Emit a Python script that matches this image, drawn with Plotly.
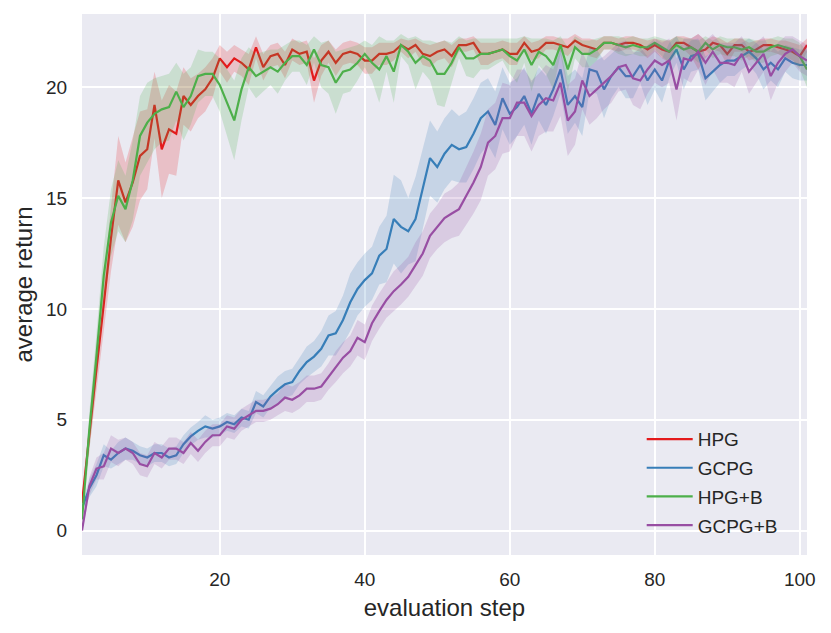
"""
Learning curves (average return vs evaluation step) with std bands, seaborn darkgrid look
"""
import plotly.graph_objs as go

steps = list(range(1, 102))

# mean return per evaluation step
hpg = [1.25, 4.4, 7.3, 10.2, 13.2, 15.8, 14.8, 15.7, 16.9, 17.2,
       19.2, 17.2, 18.1, 17.9, 19.6, 19.2, 19.6, 19.9, 20.4, 21.3,
       20.9, 21.3, 21.1, 20.8, 21.8, 20.9, 21.4, 21.5, 21.0, 21.7,
       21.5, 21.6, 20.3, 21.2, 21.6, 21.1, 21.5, 21.6, 21.5, 21.2,
       21.2, 21.5, 21.5, 21.6, 21.9, 21.7, 21.9, 21.5, 21.4, 21.6,
       21.7, 21.4, 21.9, 21.9, 22.0, 21.5, 21.5, 21.6, 21.7, 21.5,
       21.5, 22.0, 21.6, 21.7, 22.0, 22.0, 21.9, 21.8, 22.1, 21.9,
       21.8, 21.7, 22.0, 22.0, 21.9, 22.0, 22.0, 21.9, 21.7, 21.9,
       21.7, 21.6, 22.0, 22.0, 21.8, 21.6, 21.7, 22.0, 21.9, 21.5,
       21.9, 21.9, 21.6, 21.7, 21.9, 21.9, 21.8, 21.7, 21.6, 21.4,
       21.9]
gcpg = [1.0, 1.9, 2.5, 3.4, 3.2, 3.5, 3.7, 3.6, 3.4, 3.3,
        3.5, 3.5, 3.3, 3.4, 3.9, 4.25, 4.5, 4.7, 4.6, 4.7,
        4.9, 4.8, 5.1, 5.0, 5.8, 5.6, 6.05, 6.35, 6.6, 6.7,
        7.2, 7.6, 7.85, 8.2, 8.8, 8.9, 9.5, 10.3, 10.9, 11.3,
        11.6, 12.4, 12.7, 14.05, 13.7, 13.5, 14.05, 15.4, 16.8, 16.4,
        17.0, 17.4, 17.2, 17.3, 17.9, 18.6, 18.9, 18.3, 19.5, 18.8,
        19.1, 19.6, 18.8, 19.7, 19.2, 19.9, 20.8, 19.2, 19.6, 19.1,
        20.8, 20.7, 19.9, 20.5, 20.9, 20.5, 20.5, 21.0, 20.3, 20.8,
        20.3, 21.2, 21.7, 20.8, 21.4, 21.5, 20.4, 20.7, 21.0, 21.2,
        21.2, 21.4, 21.6, 21.3, 20.8, 21.1, 20.8, 21.3, 21.1, 21.0,
        21.0]
hpg_b = [0.5, 4.5, 7.9, 11.5, 13.9, 15.1, 14.5, 15.8, 17.8, 18.4,
         18.8, 19.0, 19.1, 19.8, 19.1, 19.6, 20.5, 20.6, 20.6, 20.1,
         19.3, 18.5, 19.9, 20.9, 20.5, 20.7, 20.9, 20.7, 21.1, 21.4,
         21.4, 21.0, 21.7, 21.0, 20.9, 20.2, 20.7, 20.8, 21.1, 21.5,
         21.1, 20.8, 21.4, 20.7, 21.9, 21.6, 21.1, 21.4, 21.2, 20.6,
         20.6, 21.1, 21.8, 21.3, 21.3, 21.5, 21.5, 21.6, 21.7, 21.4,
         21.2, 21.7, 21.0, 21.6, 21.4, 21.0, 21.9, 20.8, 21.8, 21.5,
         21.5, 21.7, 22.0, 22.0, 21.9, 21.8, 21.9, 21.8, 21.8, 22.0,
         21.8, 21.6, 21.9, 21.7, 21.8, 21.6, 22.0, 21.7, 21.9, 21.8,
         21.8, 21.7, 21.8, 21.6, 21.6, 21.8, 21.9, 21.8, 21.7, 21.4,
         20.8]
gcpg_b = [0.0, 2.0, 2.8, 2.9, 3.7, 3.5, 3.7, 3.5, 3.0, 2.9,
          3.5, 3.3, 3.7, 3.7, 3.5, 3.95, 3.6, 4.0, 4.3, 4.3,
          4.7, 4.6, 5.0, 5.2, 5.4, 5.4, 5.5, 5.7, 6.0, 5.9,
          6.1, 6.4, 6.4, 6.5, 6.95, 7.4, 7.8, 8.1, 8.7, 8.5,
          9.35, 9.9, 10.4, 10.8, 11.1, 11.45, 12.0, 12.5, 13.3, 13.7,
          14.1, 14.3, 14.5, 15.1, 15.7, 16.4, 17.5, 17.8, 18.6, 18.6,
          19.3, 19.3, 18.7, 19.2, 19.5, 19.4, 20.2, 18.5, 18.9, 20.3,
          19.6, 19.9, 20.2, 20.5, 20.9, 21.0, 20.4, 20.3, 20.8, 21.2,
          21.0, 21.2, 19.9, 21.3, 21.2, 21.6, 21.1, 21.6, 21.1, 21.1,
          21.0, 21.5, 20.7, 21.1, 21.5, 20.5, 21.1, 21.5, 21.7, 21.4,
          21.2]

# std of the return (half width of the shaded band)
hpg_std = [0.3, 0.6, 0.9, 1.2, 1.5, 2.0, 1.8, 2.0, 2.0, 1.8,
           1.5, 2.2, 2.0, 1.9, 1.3, 1.2, 1.0, 1.0, 0.9, 0.6,
           0.7, 0.6, 0.6, 0.7, 0.5, 0.6, 0.5, 0.5, 0.6, 0.5,
           0.5, 0.5, 1.0, 0.7, 0.5, 0.6, 0.5, 0.5, 0.5, 0.6,
           0.6, 0.5, 0.5, 0.4, 0.3, 0.4, 0.3, 0.5, 0.5, 0.4,
           0.4, 0.5, 0.3, 0.3, 0.3, 0.5, 0.5, 0.4, 0.4, 0.5,
           0.5, 0.3, 0.4, 0.4, 0.3, 0.3, 0.3, 0.4, 0.3, 0.3,
           0.4, 0.4, 0.3, 0.3, 0.3, 0.3, 0.3, 0.3, 0.4, 0.3,
           0.4, 0.5, 0.3, 0.3, 0.4, 0.8, 0.4, 0.3, 0.3, 0.5,
           0.3, 0.3, 0.4, 0.4, 0.3, 0.3, 0.3, 0.4, 0.4, 0.5,
           0.3]
gcpg_std = [0.2, 0.4, 0.5, 0.5, 0.4, 0.5, 0.5, 0.4, 0.4, 0.4,
            0.4, 0.4, 0.4, 0.4, 0.4, 0.4, 0.4, 0.5, 0.4, 0.4,
            0.4, 0.4, 0.4, 0.4, 0.5, 0.5, 0.5, 0.6, 0.6, 0.6,
            0.6, 0.7, 0.7, 0.8, 0.9, 1.0, 1.1, 1.3, 1.2, 1.2,
            1.2, 1.3, 1.5, 2.0, 2.1, 1.5, 1.9, 1.8, 1.7, 1.6,
            1.6, 1.6, 1.5, 1.6, 1.6, 1.6, 1.5, 1.5, 1.4, 1.4,
            1.3, 1.3, 1.4, 1.2, 1.3, 1.2, 1.1, 1.3, 1.2, 1.3,
            1.0, 1.0, 1.3, 1.0, 0.9, 1.0, 1.0, 0.8, 1.1, 0.9,
            1.0, 0.8, 0.6, 0.9, 0.7, 0.7, 1.0, 0.9, 0.8, 0.7,
            0.7, 0.6, 0.6, 0.7, 0.9, 0.8, 0.8, 0.6, 0.7, 0.7,
            0.7]
hpg_b_std = [0.3, 0.8, 1.0, 1.3, 1.5, 1.6, 1.5, 1.8, 1.8, 1.8,
             1.6, 1.5, 1.5, 1.3, 1.5, 1.3, 1.2, 1.0, 1.0, 1.2,
             1.5, 1.8, 1.4, 0.9, 1.0, 0.9, 0.8, 1.0, 0.8, 0.7,
             0.7, 0.9, 0.6, 1.0, 1.2, 1.4, 1.0, 1.0, 0.8, 0.6,
             0.8, 1.5, 0.7, 1.4, 0.5, 0.6, 1.2, 0.7, 0.9, 1.4,
             1.5, 0.9, 0.5, 0.8, 0.9, 0.7, 0.7, 0.6, 0.5, 0.8,
             1.0, 0.6, 1.2, 0.6, 0.8, 1.1, 0.4, 1.0, 0.5, 0.6,
             0.6, 0.5, 0.3, 0.3, 0.4, 0.4, 0.4, 0.4, 0.4, 0.3,
             0.4, 0.5, 0.4, 0.5, 0.4, 0.5, 0.3, 0.4, 0.4, 0.4,
             0.4, 0.5, 0.4, 0.5, 0.5, 0.4, 0.4, 0.4, 0.5, 0.6,
             0.8]
gcpg_b_std = [0.1, 0.4, 0.5, 0.6, 0.6, 0.6, 0.5, 0.5, 0.5, 0.5,
              0.5, 0.5, 0.5, 0.5, 0.5, 0.5, 0.5, 0.5, 0.5, 0.5,
              0.5, 0.5, 0.5, 0.5, 0.5, 0.5, 0.5, 0.5, 0.6, 0.6,
              0.6, 0.6, 0.6, 0.6, 0.6, 0.7, 0.7, 0.7, 0.8, 0.8,
              0.8, 0.8, 0.8, 0.9, 0.9, 0.9, 1.0, 1.0, 1.0, 1.0,
              1.1, 1.1, 1.2, 1.3, 1.4, 1.5, 1.5, 1.5, 1.6, 1.5,
              1.5, 1.5, 1.6, 1.4, 1.5, 1.4, 1.5, 1.6, 1.5, 1.3,
              1.3, 1.3, 1.2, 1.2, 1.1, 1.1, 1.2, 1.3, 1.1, 1.0,
              1.0, 1.0, 1.4, 0.9, 1.0, 0.8, 1.0, 0.8, 0.9, 0.9,
              1.0, 0.8, 1.0, 0.9, 0.8, 1.1, 0.9, 0.8, 0.6, 0.7,
              0.7]

series_names = ["HPG", "GCPG", "HPG+B", "GCPG+B"]
series_means = [hpg, gcpg, hpg_b, gcpg_b]
series_stds = [hpg_std, gcpg_std, hpg_b_std, gcpg_b_std]

# Set1 palette
line_colors = ["#e41a1c", "#377eb8", "#4daf4a", "#984ea3"]
band_colors = ["rgba(228,26,28,0.2)", "rgba(55,126,184,0.2)",
               "rgba(77,175,74,0.2)", "rgba(152,78,163,0.2)"]

TEXT = "#262626"
FONT = "Liberation Sans, Arial, sans-serif"

fig = go.Figure()

for name, mean, std, lc, bc in zip(series_names, series_means, series_stds, line_colors, band_colors):
    upper = [m + s for m, s in zip(mean, std)]
    lower = [m - s for m, s in zip(mean, std)]
    fig.add_trace(go.Scatter(
        x=steps + steps[::-1],
        y=upper + lower[::-1],
        fill="toself",
        fillcolor=bc,
        line=dict(width=0),
        mode="lines",
        hoverinfo="skip",
        showlegend=False))
    fig.add_trace(go.Scatter(
        x=steps,
        y=mean,
        mode="lines",
        name=name,
        legendgroup=name,
        line=dict(color=lc, width=2.2)))

# page body has an 8px margin, so the figure is shrunk by that much
fig.update_layout(
    width=823,
    height=625,
    margin=dict(l=74, r=24, t=6, b=78),
    paper_bgcolor="white",
    plot_bgcolor="#EAEAF2",
    font=dict(family=FONT, color=TEXT, size=19),
    xaxis=dict(
        range=[1, 101],
        tickvals=[20, 40, 60, 80, 100],
        showgrid=True,
        gridcolor="white",
        gridwidth=1.5,
        zeroline=False,
        showline=False,
        ticks="outside",
        ticklen=7,
        tickcolor="rgba(0,0,0,0)",
        tickfont=dict(size=19, color=TEXT),
        title=dict(text="evaluation step", font=dict(size=24, color=TEXT), standoff=10),
    ),
    yaxis=dict(
        range=[-1.1, 23.3],
        tickvals=[0, 5, 10, 15, 20],
        showgrid=True,
        gridcolor="white",
        gridwidth=1.5,
        zeroline=False,
        showline=False,
        ticks="outside",
        ticklen=10,
        tickcolor="rgba(0,0,0,0)",
        tickfont=dict(size=19, color=TEXT),
        title=dict(text="average return", font=dict(size=24, color=TEXT), standoff=6),
    ),
    legend=dict(
        x=0.772,
        y=0.02,
        xanchor="left",
        yanchor="bottom",
        bgcolor="rgba(0,0,0,0)",
        font=dict(size=19, color=TEXT),
        traceorder="grouped",
        tracegroupgap=1,
        itemwidth=46,
    ),
)

fig.write_html("out.html")
